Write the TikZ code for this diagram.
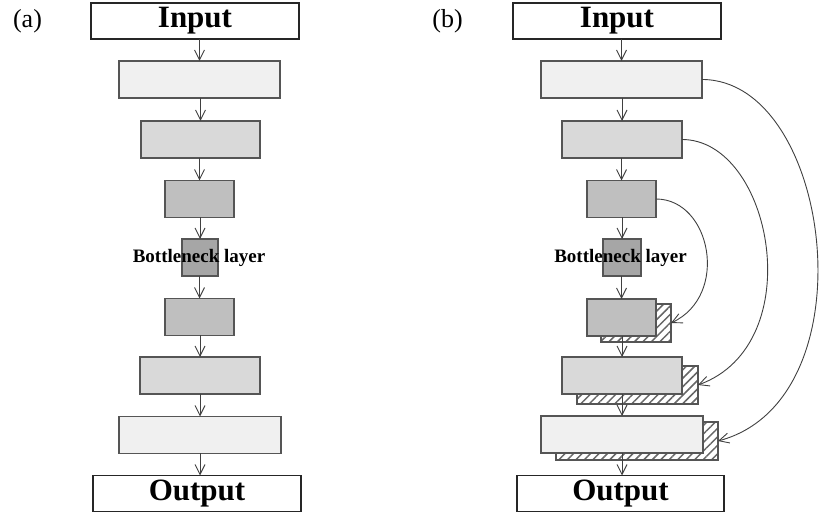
\documentclass[tikz,border=0pt]{standalone}
\usepackage{fontspec}
\setmainfont{Liberation Serif}
\usetikzlibrary{arrows.meta,patterns.meta}
\definecolor{fA}{HTML}{F0F0F0}
\definecolor{fB}{HTML}{D9D9D9}
\definecolor{fC}{HTML}{BFBFBF}
\definecolor{fD}{HTML}{A6A6A6}
\definecolor{edgec}{HTML}{555555}
\definecolor{arrc}{HTML}{404040}
\begin{document}
\begin{tikzpicture}[x=1pt,y=-1pt,
  layer/.style={draw=edgec, line width=1.3pt, minimum height=37pt, inner sep=0pt, outer sep=0pt},
  io/.style={draw=black!85, line width=1.1pt, fill=white, minimum width=208pt, minimum height=36pt, inner sep=0pt, outer sep=0pt, font=\fontsize{31}{31}\selectfont\bfseries},
  hatchbox/.style={draw=edgec, line width=1.1pt, fill=white, pattern={Lines[angle=45,distance=6pt,line width=1.5pt]}, pattern color=black!60, minimum height=38pt, inner sep=0pt, outer sep=0pt},
  flow/.style={draw=arrc, line width=0.9pt, -{Straight Barb[length=10pt,width=10pt,line width=0.9pt]}},
  lbl/.style={font=\fontsize{26}{26}\selectfont, inner sep=0pt},
  bntext/.style={font=\fontsize{19}{19}\selectfont\bfseries, inner sep=0pt}
]
\useasboundingbox (0,0) rectangle (820,518);

% ---------- (a) ----------
\node[lbl] (la) at (27.5,21) {(a)};
\node[io] (ina) at (195,21) {Input};
\node[layer, fill=fA, minimum width=161pt] (a1) at (199.5,79.5) {};
\node[layer, fill=fB, minimum width=119pt] (a2) at (200.5,139.5) {};
\node[layer, fill=fC, minimum width=69pt] (a3) at (199.5,199) {};
\node[layer, fill=fD, minimum width=36pt] (a4) at (200,257.5) {};
\node[layer, fill=fC, minimum width=69pt] (a5) at (199.5,317) {};
\node[layer, fill=fB, minimum width=120pt] (a6) at (200,375.5) {};
\node[layer, fill=fA, minimum width=162pt] (a7) at (200,435) {};
\node[io] (outa) at (197,493.5) {Output};
\node[bntext] (ta) at (199,257.5) {Bottleneck layer};

\draw[flow] (ina.south -| a1.north) -- (a1.north);
\draw[flow] (a1.south -| a2.north) -- (a2.north);
\draw[flow] (a2.south -| a3.north) -- (a3.north);
\draw[flow] (a3.south -| a4.north) -- (a4.north);
\draw[flow] (a4.south -| a5.north) -- (a5.north);
\draw[flow] (a5.south -| a6.north) -- (a6.north);
\draw[flow] (a6.south -| a7.north) -- (a7.north);
\draw[flow] (a7.south) -- (a7.south |- outa.north);

% ---------- (b) ----------
\node[lbl] (lb) at (447.5,21) {(b)};
\node[io] (inb) at (617,21) {Input};
\node[layer, fill=fA, minimum width=161pt] (b1) at (621.5,79.5) {};
\node[layer, fill=fB, minimum width=120pt] (b2) at (622,139.5) {};
\node[layer, fill=fC, minimum width=69pt] (b3) at (621.5,199) {};
\node[layer, fill=fD, minimum width=38pt] (b4) at (622,257.5) {};
\node[hatchbox, minimum width=70pt] (s5) at (636,323) {};
\node[hatchbox, minimum width=121pt] (s6) at (637.5,385) {};
\node[hatchbox, minimum width=162pt] (s7) at (637,441) {};
\node[layer, fill=fC, minimum width=69pt] (b5) at (621.5,317.5) {};
\node[layer, fill=fB, minimum width=120pt] (b6) at (622,375.5) {};
\node[layer, fill=fA, minimum width=162pt] (b7) at (622,434.5) {};
\node[io, minimum width=207pt] (outb) at (620.5,493.5) {Output};
\node[bntext] (tb) at (620.5,257.5) {Bottleneck layer};

\draw[flow] (inb.south -| b1.north) -- (b1.north);
\draw[flow] (b1.south -| b2.north) -- (b2.north);
\draw[flow] (b2.south -| b3.north) -- (b3.north);
\draw[flow] (b3.south -| b4.north) -- (b4.north);
\draw[flow] (b4.south -| b5.north) -- (b5.north);
\draw[flow] (b5.south -| b6.north) -- (b6.north);
\draw[flow] (b6.south -| b7.north) -- (b7.north);
\draw[flow] (b7.south) -- (b7.south |- outb.north);

% skip connections
\draw[flow] (b1.east) .. controls +(130,0) and +(154.5,-41.4) .. (s7.east);
\draw[flow] (b2.east) .. controls +(90,0) and +(112.8,-41) .. (s6.east);
\draw[flow] (b3.east) .. controls +(55,0) and +(58.9,-27.5) .. (s5.east);
\end{tikzpicture}
\end{document}
